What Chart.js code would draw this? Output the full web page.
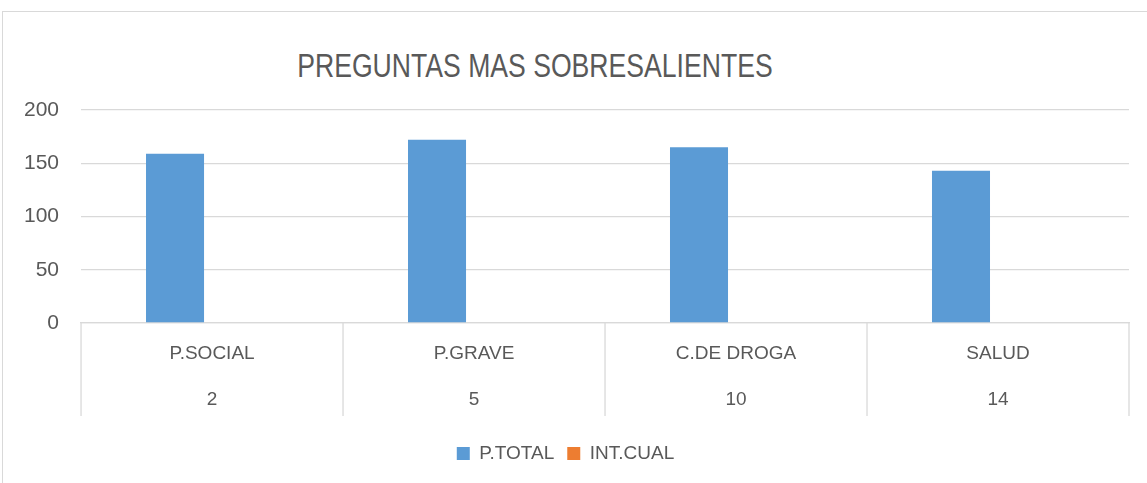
<!DOCTYPE html>
<html>
<head>
<meta charset="utf-8">
<script src="https://cdn.jsdelivr.net/npm/chart.js@4"></script>
<style>
  html, body { margin: 0; padding: 0; background: #fff; overflow: hidden; }
  #wrap { position: relative; width: 1147px; height: 483px; }
  #frame { position: absolute; left: 2px; top: 11px; width: 1200px; height: 600px;
           border-left: 1.5px solid #d9d9d9; border-top: 1.5px solid #d9d9d9; box-sizing: border-box; }
  #title { position: absolute; left: 0; top: 49px; width: 1070px; text-align: center;
           font-family: 'Liberation Sans', sans-serif; font-size: 33px;
           line-height: 33px; color: #595959; white-space: nowrap; }
  #title span { display: inline-block; transform: scaleX(0.806); transform-origin: center; }
  canvas { position: absolute; left: 0; top: 0; }
</style>
</head>
<body>
<div id="wrap">
  <div id="frame"></div>
  <div id="title"><span>PREGUNTAS MAS SOBRESALIENTES</span></div>
  <canvas id="c" width="1147" height="483"></canvas>
</div>
<script>
const categories = ['P.SOCIAL', 'P.GRAVE', 'C.DE DROGA', 'SALUD'];
const codes = ['2', '5', '10', '14'];
const pTotal = [159, 172, 165, 143];
const intCual = [0, 0, 0, 0];
const yTicks = [0, 50, 100, 150, 200];

const labels = categories.map((c, i) => [c, codes[i]]);
const txt = '#595959';
const grid = '#d9d9d9';

// category divider lines of the two-level axis, placed from the x scale
const dividers = {
  id: 'dividers',
  afterDraw(chart) {
    const sx = chart.scales.x;
    const ctx = chart.ctx;
    const n = chart.data.labels.length;
    const half = (sx.getPixelForValue(1) - sx.getPixelForValue(0)) / 2;
    const top = chart.chartArea.bottom;
    ctx.save();
    ctx.strokeStyle = grid;
    ctx.lineWidth = 1.3;
    for (let i = 0; i <= n; i++) {
      const x = i < n ? sx.getPixelForValue(i) - half : sx.getPixelForValue(n - 1) + half;
      ctx.beginPath();
      ctx.moveTo(x, top);
      ctx.lineTo(x, top + 93);
      ctx.stroke();
    }
    ctx.restore();
  }
};

new Chart(document.getElementById('c'), {
  type: 'bar',
  data: {
    labels: labels,
    datasets: [
      { label: 'P.TOTAL', data: pTotal, backgroundColor: '#5B9BD5', borderWidth: 0,
        categoryPercentage: 0.565, barPercentage: 0.784 },
      { label: 'INT.CUAL', data: intCual, backgroundColor: '#ED7D31', borderWidth: 0,
        categoryPercentage: 0.565, barPercentage: 0.784 }
    ]
  },
  options: {
    responsive: false,
    animation: false,
    layout: { padding: { top: 110, left: 2, right: 18, bottom: 10 } },
    plugins: {
      title: { display: false },
      tooltip: { enabled: false },
      legend: {
        position: 'bottom',
        labels: {
          color: txt, boxWidth: 13, boxHeight: 13, padding: 13,
          font: { family: "'Liberation Sans', sans-serif", size: 19 }
        }
      }
    },
    scales: {
      x: {
        grid: { display: false, drawTicks: false },
        border: { display: true, color: grid, width: 1.3 },
        ticks: { color: txt, padding: 8, maxRotation: 0, autoSkip: false,
                 font: { family: "'Liberation Sans', sans-serif", size: 19, lineHeight: 46 / 19 } }
      },
      y: {
        min: 0, max: 200,
        afterBuildTicks: (s) => { s.ticks = yTicks.map(v => ({ value: v })); },
        grid: { color: grid, lineWidth: 1.3, drawTicks: false },
        border: { display: false },
        ticks: { color: txt, padding: 22,
                 font: { family: "'Liberation Sans', sans-serif", size: 21 } }
      }
    }
  },
  plugins: [dividers]
});
</script>
</body>
</html>
